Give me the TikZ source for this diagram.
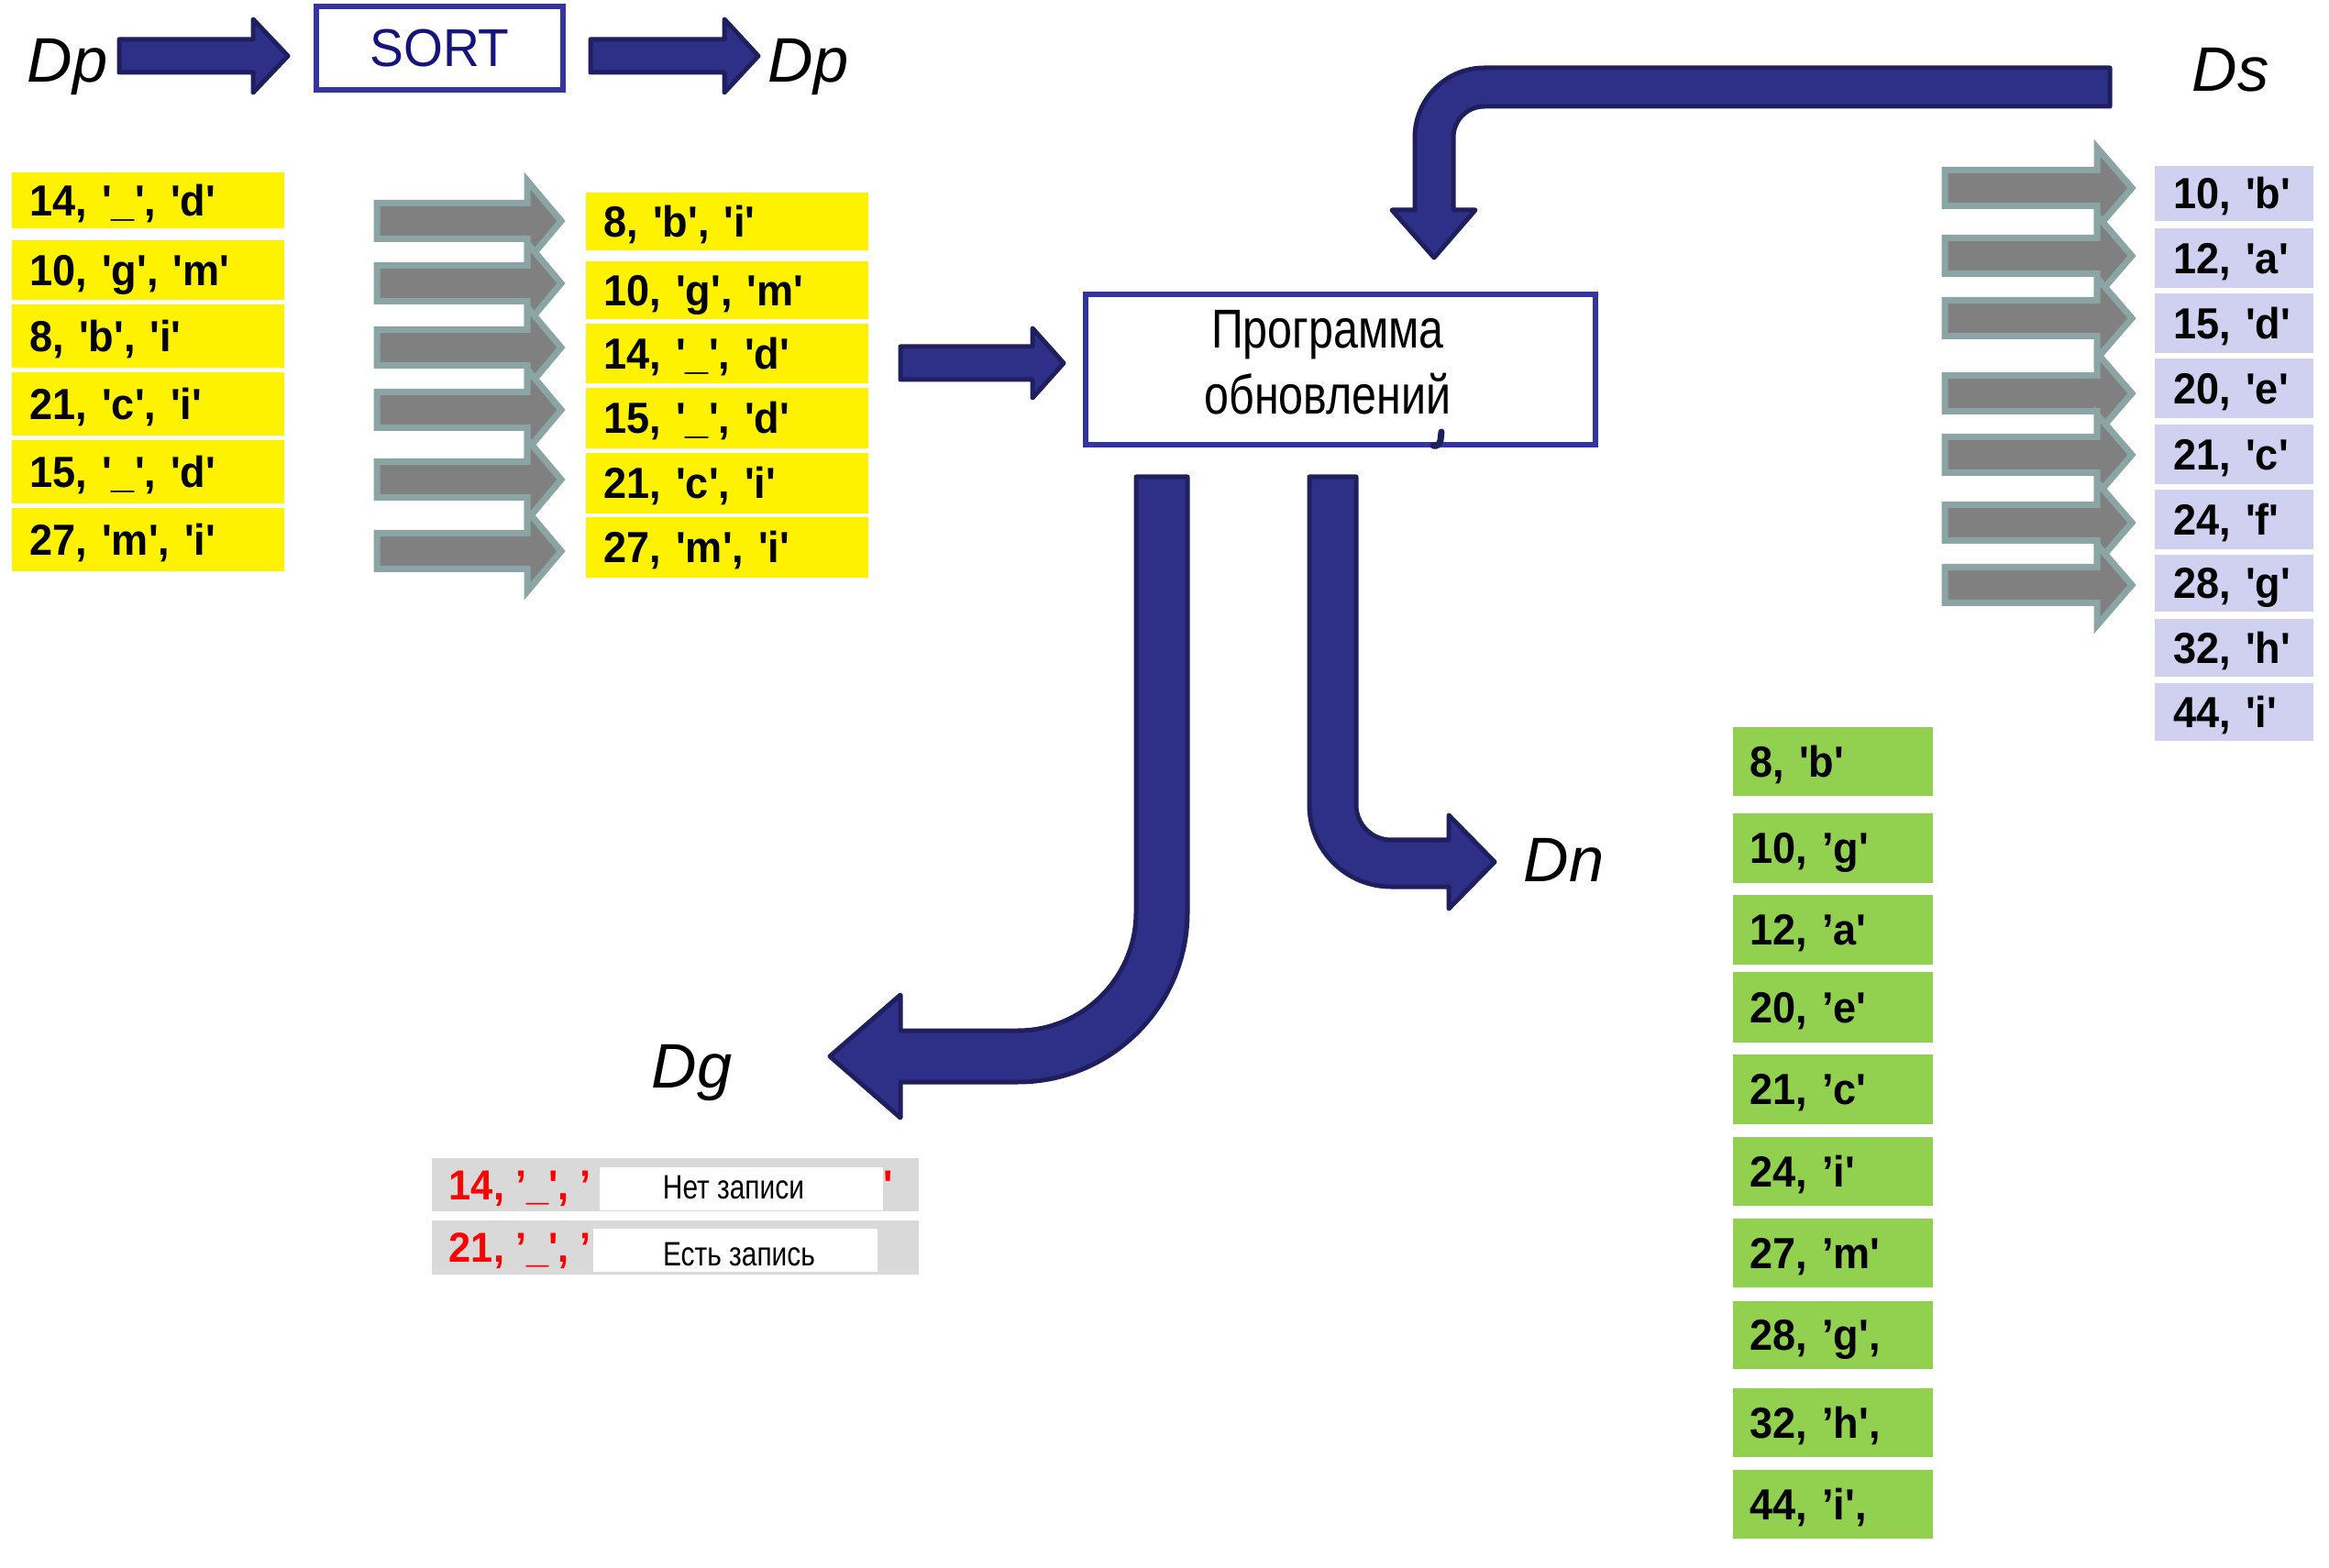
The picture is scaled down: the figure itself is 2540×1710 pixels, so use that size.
\documentclass[tikz,border=0pt]{standalone}
\usepackage{fontspec}
\setmainfont{Liberation Sans}
\newfontfamily\cellfont[FakeStretch=0.95,Ligatures=TeXOff]{Liberation Sans}
\newfontfamily\narrowfont[FakeStretch=0.81]{Liberation Sans}

\definecolor{navyfill}{HTML}{2E3088}
\definecolor{navyline}{HTML}{1F1F60}
\definecolor{boxblue}{HTML}{3535A0}
\definecolor{sorttext}{HTML}{14147A}
\definecolor{grayfill}{HTML}{808080}
\definecolor{grayline}{HTML}{8BA5A5}
\definecolor{lav}{HTML}{D0D1F0}
\definecolor{grn}{HTML}{92D050}
\definecolor{rowgray}{HTML}{D9D9D9}

% block arrow pointing right: style, x start, x head, x tip, y, half body, half head
\newcommand{\blockarr}[7]{\draw[#1] (#2,#5-#6) -- (#3,#5-#6) -- (#3,#5-#7) -- (#4,#5) -- (#3,#5+#7) -- (#3,#5+#6) -- (#2,#5+#6) -- cycle;}

\begin{document}
\begin{tikzpicture}[x=0.01cm, y=-0.01cm,
        navyarrow/.style={fill=navyfill, draw=navyline, line width=0.05cm, line join=round},
        grayarrow/.style={fill=grayfill, draw=grayline, line width=0.07cm, line join=miter},
        cell/.style={anchor=north west, inner ysep=0pt, text height=9.6pt, text depth=0pt, align=left,
            font=\cellfont\bfseries\fontsize{13.5}{16}\selectfont},
        ycell/.style={cell, fill=yellow, inner xsep=0.2cm},
        scell/.style={cell, fill=lav, inner xsep=0.21cm, text width=1.31cm},
        ncell/.style={cell, fill=grn, inner xsep=0.19cm, text width=1.80cm},
        dlabel/.style={anchor=base west, inner sep=0pt, font=\itshape\fontsize{19.5}{23}\selectfont},
        redtext/.style={anchor=base west, inner sep=0pt, text=red, font=\cellfont\bfseries\fontsize{13}{16}\selectfont},
        note/.style={anchor=base, inner sep=0pt, font=\narrowfont\fontsize{10.5}{13}\selectfont}]
    \useasboundingbox (0,0) rectangle (2540,1710);

    % SORT step
    \node[dlabel] (dpin) at (29,90) {Dp};
    \blockarr{navyarrow}{130}{276}{314}{61}{18}{40}
    \node[draw=boxblue, line width=0.06cm, minimum width=2.69cm, minimum height=0.91cm, inner sep=0pt,
        text=sorttext, font=\cellfont\fontsize{16.5}{20}\selectfont] (sort) at (479.5,52.5) {SORT};
    \blockarr{navyarrow}{644}{790}{827}{61}{18}{40}
    \node[dlabel] (dpout) at (837,90) {Dp};

    % Dp before and after sorting
    \foreach \t/\b/\s [count=\i] in {187/248/{14, '\_', 'd'}, 261/326/{10, 'g', 'm'}, 331/400/{8, 'b', 'i'},
            405/474/{21, 'c', 'i'}, 479/548/{15, '\_', 'd'}, 553/622/{27, 'm', 'i'}}
        \node[ycell, text width=2.57cm, minimum height=(\b-\t)*0.01cm] (ya\i) at (12,\t) {\s};
    \foreach \y in {241,309,379,447,523,601}
        \blockarr{grayarrow}{411}{575}{612}{\y}{19.5}{44}
    \foreach \t/\b/\s [count=\i] in {209/272/{8, 'b', 'i'}, 284/347/{10, 'g', 'm'}, 352/417/{14, '\_', 'd'},
            422/488/{15, '\_', 'd'}, 493/559/{21, 'c', 'i'}, 563/629/{27, 'm', 'i'}}
        \node[ycell, text width=2.68cm, minimum height=(\b-\t)*0.01cm] (yb\i) at (638,\t) {\s};

    % update program
    \blockarr{navyarrow}{982}{1126}{1160}{396}{18}{38}
    \node[draw=boxblue, line width=0.06cm, minimum width=5.56cm, minimum height=1.64cm] (prog) at (1462,403) {};
    \node[anchor=base, inner sep=0pt, font=\narrowfont\fontsize{17}{20}\selectfont] (progl1) at (1448,380) {Программа};
    \node[anchor=base, inner sep=0pt, font=\narrowfont\fontsize{17}{20}\selectfont] (progl2) at (1448,452) {обновлений};
    \draw[navyline, line width=0.07cm, line cap=round] (1572,471) -- (1571,480) .. controls (1570,485) and (1567,487) .. (1563,486);

    % Ds into the program
    \draw[navyarrow] (2301,74) -- (1619,74) .. controls (1577,74) and (1543,108) .. (1543,150) -- (1543,229)
        -- (1518,229) -- (1564,281) -- (1609,229) -- (1585,229) -- (1585,150)
        .. controls (1585,131) and (1600,116) .. (1619,116) -- (2301,116) -- cycle;
    \node[dlabel] (ds) at (2390,100) {Ds};
    \foreach \y in {205,279,347,429,496,570,638}
        \blockarr{grayarrow}{2121}{2287}{2325}{\y}{19.5}{44}
    \foreach \t/\b/\s [count=\i] in {180/240/{10, 'b'}, 248/313/{12, 'a'}, 319/384/{15, 'd'}, 390/455/{20, 'e'},
            462/527/{21, 'c'}, 533/598/{24, 'f'}, 604/666/{28, 'g'}, 674/737/{32, 'h'}, 744/807/{44, 'i'}}
        \node[scell, minimum height=(\b-\t)*0.01cm] (ds\i) at (2349,\t) {\s};

    % new master Dn
    \draw[navyarrow] (1428,520) -- (1479,520) -- (1479,878) .. controls (1479,899) and (1496,916) .. (1517,916)
        -- (1580,916) -- (1580,889) -- (1630,940) -- (1580,991) -- (1580,967) -- (1517,967)
        .. controls (1468,967) and (1428,927) .. (1428,878) -- cycle;
    \node[dlabel] (dn) at (1661,961) {Dn};
    \foreach \t/\b/\s [count=\i] in {792/867/{8, 'b'}, 886/962/{10, ’g'}, 975/1051/{12, ’a'}, 1059/1136/{20, ’e'},
            1149/1225/{21, ’c'}, 1239/1314/{24, ’i'}, 1328/1403/{27, ’m'}, 1418/1492/{28, ’g',},
            1513/1588/{32, ’h',}, 1602/1677/{44, ’i',}}
        \node[ncell, minimum height=(\b-\t)*0.01cm] (dn\i) at (1889,\t) {\s};

    % errors Dg
    \draw[navyarrow] (1239,520) -- (1295,520) -- (1295,995) .. controls (1295,1097) and (1212,1180) .. (1110,1180)
        -- (982,1180) -- (982,1219) -- (905,1152) -- (982,1085) -- (982,1124) -- (1110,1124)
        .. controls (1181,1124) and (1239,1066) .. (1239,995) -- cycle;
    \node[dlabel] (dg) at (710,1186) {Dg};

    \node[fill=rowgray, anchor=north west, inner sep=0pt, minimum width=5.31cm, minimum height=0.58cm] (dg1) at (470,1262) {};
    \node[redtext] (dgt1) at (489,1308) {14, ’\_', ’};
    \node[fill=white, anchor=north west, inner sep=0pt, minimum width=3.09cm, minimum height=0.47cm] (w1) at (653,1272) {};
    \node[redtext] (dgq1) at (963,1308) {'};
    \node[note] (nt1) at (800,1307) {Нет записи};

    \node[fill=rowgray, anchor=north west, inner sep=0pt, minimum width=5.31cm, minimum height=0.59cm] (dg2) at (470,1330) {};
    \node[redtext] (dgt2) at (489,1376) {21, ’\_', ’};
    \node[fill=white, anchor=north west, inner sep=0pt, minimum width=3.10cm, minimum height=0.47cm] (w2) at (646,1339) {};
    \node[note] (nt2) at (806,1380) {Есть запись};
\end{tikzpicture}
\end{document}
